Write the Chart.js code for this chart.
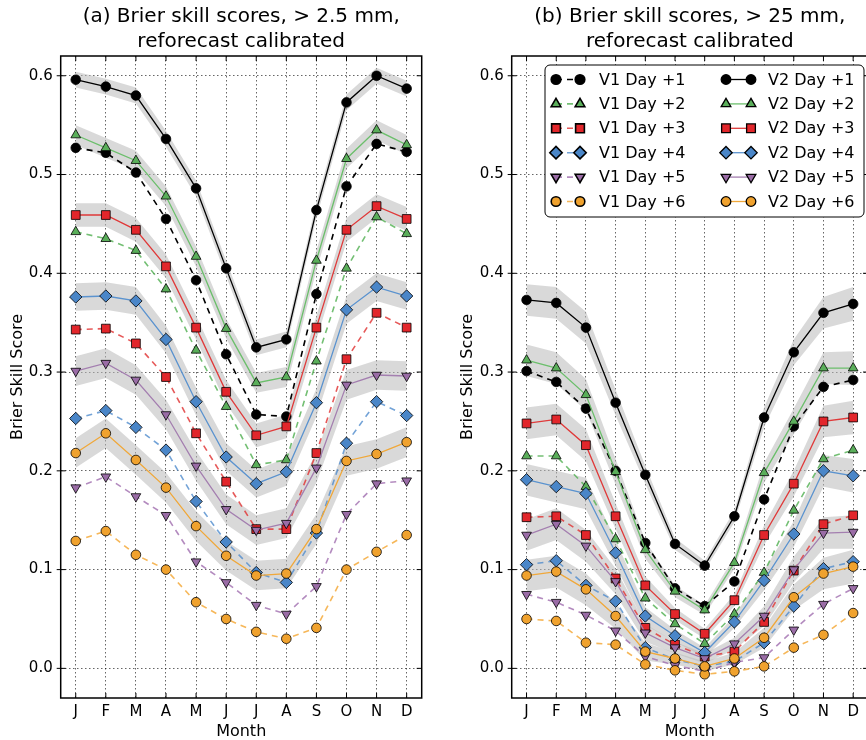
<!DOCTYPE html>
<html>
<head>
<meta charset="utf-8">
<script src="https://cdn.jsdelivr.net/npm/chart.js@4.4.0/dist/chart.umd.min.js"></script>
<style>
  html, body { margin: 0; padding: 0; background: #fff; overflow: hidden; width: 866px; height: 740px; }
  #wa { position: absolute; left: 0; top: 0; }
  #wb { position: absolute; left: 433px; top: 0; }
</style>
</head>
<body>
<div id="wa"><canvas id="ca" width="433" height="740"></canvas></div>
<div id="wb"><canvas id="cb" width="442" height="740"></canvas></div>
<script>
const months = ['J', 'F', 'M', 'A', 'M', 'J', 'J', 'A', 'S', 'O', 'N', 'D'];
const yTicks = [0.0, 0.1, 0.2, 0.3, 0.4, 0.5, 0.6];
const dayNames = ['Day +1', 'Day +2', 'Day +3', 'Day +4', 'Day +5', 'Day +6'];

// (a) > 2.5 mm
const aV1 = [
  [0.527, 0.522, 0.502, 0.455, 0.393, 0.318, 0.257, 0.255, 0.379, 0.488, 0.531, 0.523],
  [0.442, 0.435, 0.423, 0.384, 0.322, 0.265, 0.206, 0.211, 0.311, 0.405, 0.457, 0.440],
  [0.343, 0.344, 0.329, 0.295, 0.238, 0.189, 0.141, 0.141, 0.218, 0.313, 0.360, 0.345],
  [0.253, 0.261, 0.244, 0.221, 0.169, 0.128, 0.097, 0.087, 0.137, 0.228, 0.270, 0.256],
  [0.183, 0.194, 0.174, 0.155, 0.108, 0.087, 0.064, 0.055, 0.083, 0.156, 0.187, 0.190],
  [0.129, 0.139, 0.115, 0.100, 0.067, 0.050, 0.037, 0.030, 0.041, 0.100, 0.118, 0.135]
];
const aV2 = [
  [0.596, 0.589, 0.580, 0.536, 0.486, 0.405, 0.325, 0.333, 0.464, 0.573, 0.600, 0.587],
  [0.540, 0.527, 0.514, 0.478, 0.417, 0.344, 0.289, 0.295, 0.413, 0.516, 0.545, 0.530],
  [0.459, 0.459, 0.444, 0.407, 0.345, 0.280, 0.236, 0.245, 0.345, 0.444, 0.468, 0.455],
  [0.376, 0.377, 0.372, 0.333, 0.270, 0.214, 0.187, 0.199, 0.269, 0.363, 0.386, 0.377],
  [0.301, 0.309, 0.292, 0.257, 0.205, 0.161, 0.140, 0.147, 0.203, 0.287, 0.297, 0.296],
  [0.218, 0.238, 0.211, 0.183, 0.144, 0.114, 0.094, 0.096, 0.141, 0.210, 0.217, 0.229]
];
// half width of grey band, per lead day
const bandA = [0.008, 0.010, 0.012, 0.014, 0.015, 0.015];

// (b) > 25 mm
const bV1 = [
  [0.301, 0.290, 0.263, 0.200, 0.127, 0.081, 0.063, 0.088, 0.171, 0.245, 0.285, 0.292],
  [0.215, 0.215, 0.184, 0.131, 0.071, 0.045, 0.025, 0.055, 0.097, 0.160, 0.212, 0.221],
  [0.153, 0.154, 0.135, 0.091, 0.041, 0.024, 0.012, 0.017, 0.047, 0.099, 0.146, 0.155],
  [0.105, 0.109, 0.084, 0.068, 0.021, 0.009, 0.002, 0.007, 0.026, 0.063, 0.101, 0.108],
  [0.075, 0.067, 0.054, 0.038, 0.012, 0.003, -0.003, 0.006, 0.011, 0.039, 0.065, 0.081],
  [0.050, 0.048, 0.026, 0.024, 0.004, -0.002, -0.006, -0.003, 0.002, 0.021, 0.034, 0.056]
];
const bV2 = [
  [0.373, 0.370, 0.345, 0.269, 0.196, 0.126, 0.104, 0.154, 0.254, 0.320, 0.360, 0.369],
  [0.312, 0.304, 0.277, 0.199, 0.120, 0.078, 0.059, 0.107, 0.198, 0.250, 0.304, 0.304],
  [0.248, 0.252, 0.226, 0.154, 0.084, 0.055, 0.035, 0.069, 0.135, 0.187, 0.250, 0.254],
  [0.191, 0.184, 0.177, 0.117, 0.053, 0.033, 0.016, 0.047, 0.089, 0.136, 0.200, 0.195],
  [0.135, 0.146, 0.124, 0.088, 0.036, 0.021, 0.010, 0.025, 0.053, 0.100, 0.137, 0.138],
  [0.094, 0.098, 0.080, 0.053, 0.017, 0.010, 0.002, 0.010, 0.031, 0.072, 0.096, 0.103]
];
// half width of grey band, per month
const bandB = [0.016, 0.016, 0.016, 0.013, 0.009, 0.006, 0.005, 0.006, 0.010, 0.013, 0.016, 0.017];

const markFill = ['#000000', '#5aae5a', '#e2262b', '#4a86c8', '#9a6ca6', '#f0a22e'];
const solidCol = ['#000000', '#6cbf6c', '#e03a3a', '#5b93cf', '#a47fb0', '#f0a83a'];
const dashCol  = ['#000000', 'rgba(90,180,90,0.85)', 'rgba(226,60,60,0.85)', 'rgba(80,140,205,0.8)',
                  'rgba(160,110,175,0.8)', 'rgba(245,170,60,0.85)'];
const marks = ['circle', 'triangle', 'rect', 'rectRot', 'triangle', 'circle'];
const markRot = [0, 0, 0, 0, 180, 0];
const markRad = [4.8, 5.6, 6.2, 6.2, 5.6, 4.8];
const FONT = '"DejaVu Sans", sans-serif';

function buildDatasets(v1, v2, bandOf) {
  const ds = [];
  v2.forEach((s, k) => {
    ds.push({ data: s.map((v, i) => v + bandOf(k, i)), fill: '+1', backgroundColor: 'rgba(185,185,185,0.55)',
      borderColor: 'rgba(0,0,0,0)', borderWidth: 1, pointRadius: 0, order: 1000 });
    ds.push({ data: s.map((v, i) => v - bandOf(k, i)), fill: false,
      borderColor: 'rgba(0,0,0,0)', borderWidth: 1, pointRadius: 0, order: 1000 });
  });
  let n = 0;
  [[v1, true], [v2, false]].forEach(([set, dashed]) => {
    set.forEach((s, k) => {
      ds.push({
        data: s, fill: false, tension: 0,
        borderColor: dashed ? dashCol[k] : solidCol[k],
        borderWidth: dashed ? 1.6 : 1.3,
        borderDash: dashed ? [6, 5] : [],
        pointStyle: marks[k], pointRotation: markRot[k], pointRadius: markRad[k],
        pointBackgroundColor: markFill[k], pointBorderColor: '#000', pointBorderWidth: 0.8,
        order: 100 - n++
      });
    });
  });
  return ds;
}

function drawMarker(ctx, k, x, y) {
  Chart.helpers.drawPoint(ctx, { pointStyle: marks[k], rotation: markRot[k], radius: markRad[k], borderWidth: 0.8 }, x, y);
}

const decor = {
  id: 'decor',
  afterDatasetsDraw(chart, args, o) {
    const { ctx, chartArea: ca } = chart;
    const xs = chart.scales.x, ys = chart.scales.y;
    ctx.save();
    ctx.strokeStyle = '#000';
    ctx.lineWidth = 1;
    ctx.setLineDash([]);
    ctx.beginPath();
    months.forEach((m, i) => {
      const x = xs.getPixelForValue(i);
      ctx.moveTo(x, ca.top); ctx.lineTo(x, ca.top + 5);
      ctx.moveTo(x, ca.bottom); ctx.lineTo(x, ca.bottom - 5);
    });
    yTicks.forEach(v => {
      const y = ys.getPixelForValue(v);
      ctx.moveTo(ca.left - 4, y); ctx.lineTo(ca.left + 5, y);
      ctx.moveTo(ca.right, y); ctx.lineTo(ca.right - 5, y);
    });
    ctx.stroke();
    ctx.lineWidth = 1.5;
    ctx.strokeRect(ca.left, ca.top, ca.right - ca.left, ca.bottom - ca.top);
    ctx.restore();
  },
  afterDraw(chart, args, o) {
    const { ctx, chartArea: ca } = chart;
    ctx.save();
    ctx.fillStyle = '#000';
    ctx.font = '20px ' + FONT;
    ctx.textAlign = 'center';
    ctx.textBaseline = 'middle';
    const cx = (ca.left + ca.right) / 2;
    ctx.fillText(o.title[0], cx, 17);
    ctx.fillText(o.title[1], cx, 42);
    if (o.legend) {
      const bx = 112, by = 65, bw = 319, bh = 152, r = 5;
      ctx.beginPath();
      ctx.roundRect(bx, by, bw, bh, r);
      ctx.fillStyle = '#fff';
      ctx.fill();
      ctx.strokeStyle = '#000';
      ctx.lineWidth = 1;
      ctx.stroke();
      const cols = [{ m1: 123, m2: 147, tx: 166, dashed: true, tag: 'V1 ' },
                    { m1: 293, m2: 318, tx: 335, dashed: false, tag: 'V2 ' }];
      cols.forEach(c => {
        dayNames.forEach((d, k) => {
          const y = 79.5 + k * 24.4;
          ctx.beginPath();
          ctx.strokeStyle = c.dashed ? dashCol[k] : solidCol[k];
          ctx.lineWidth = c.dashed ? 1.6 : 1.3;
          ctx.setLineDash(c.dashed ? [6, 5] : []);
          ctx.moveTo(c.m1, y); ctx.lineTo(c.m2, y);
          ctx.stroke();
          ctx.setLineDash([]);
          ctx.fillStyle = markFill[k];
          ctx.strokeStyle = '#000';
          drawMarker(ctx, k, c.m1, y);
          drawMarker(ctx, k, c.m2, y);
          ctx.fillStyle = '#000';
          ctx.font = '16px ' + FONT;
          ctx.textAlign = 'left';
          ctx.textBaseline = 'middle';
          ctx.fillText(c.tag + d, c.tx, y + 1);
        });
      });
    }
    ctx.restore();
  }
};

function makeChart(id, v1, v2, bandOf, cfg) {
  return new Chart(document.getElementById(id), {
    type: 'line',
    data: { labels: months, datasets: buildDatasets(v1, v2, bandOf) },
    plugins: [decor],
    options: {
      responsive: false,
      animation: false,
      events: [],
      layout: { padding: { top: 56, right: cfg.padRight, left: 0, bottom: 0 } },
      plugins: {
        legend: { display: false },
        tooltip: { enabled: false },
        title: { display: false },
        decor: { title: cfg.title, legend: cfg.legend }
      },
      scales: {
        x: {
          type: 'category',
          offset: true,
          grid: { color: 'rgba(0,0,0,0.6)', lineWidth: 1, drawTicks: false, offset: false },
          border: { display: false, dash: [1.5, 2.5] },
          ticks: { color: '#000', font: { family: FONT, size: 15 }, padding: 5, maxRotation: 0, autoSkip: false },
          title: { display: true, text: 'Month', color: '#000', font: { family: FONT, size: 16, lineHeight: 1 }, padding: 0 },
          afterFit(s) { s.height = 42; }
        },
        y: {
          type: 'linear',
          min: -0.03, max: 0.62,
          grid: { color: 'rgba(0,0,0,0.6)', lineWidth: 1, drawTicks: false },
          border: { display: false, dash: [1.5, 2.5] },
          ticks: { color: '#000', font: { family: FONT, size: 15 }, padding: 8,
                   callback: v => v.toFixed(1) },
          afterBuildTicks(s) { s.ticks = yTicks.map(v => ({ value: v })); },
          title: { display: true, text: 'Brier Skill Score', color: '#000',
                   font: { family: FONT, size: 16, lineHeight: 1.2 }, padding: { top: cfg.yTitlePad, bottom: 0 } },
          afterFit(s) { s.width = cfg.yWidth; }
        }
      }
    }
  });
}

makeChart('ca', aV1, aV2, (k, i) => bandA[k], {
  title: ['(a) Brier skill scores, > 2.5 mm,', 'reforecast calibrated'],
  legend: false, padRight: 11.3, yWidth: 60.7, yTitlePad: 8.5
});
makeChart('cb', bV1, bV2, (k, i) => bandB[i], {
  title: ['(b) Brier skill scores, > 25 mm,', 'reforecast calibrated'],
  legend: true, padRight: 2, yWidth: 78.7, yTitlePad: 25.4
});
</script>
</body>
</html>
